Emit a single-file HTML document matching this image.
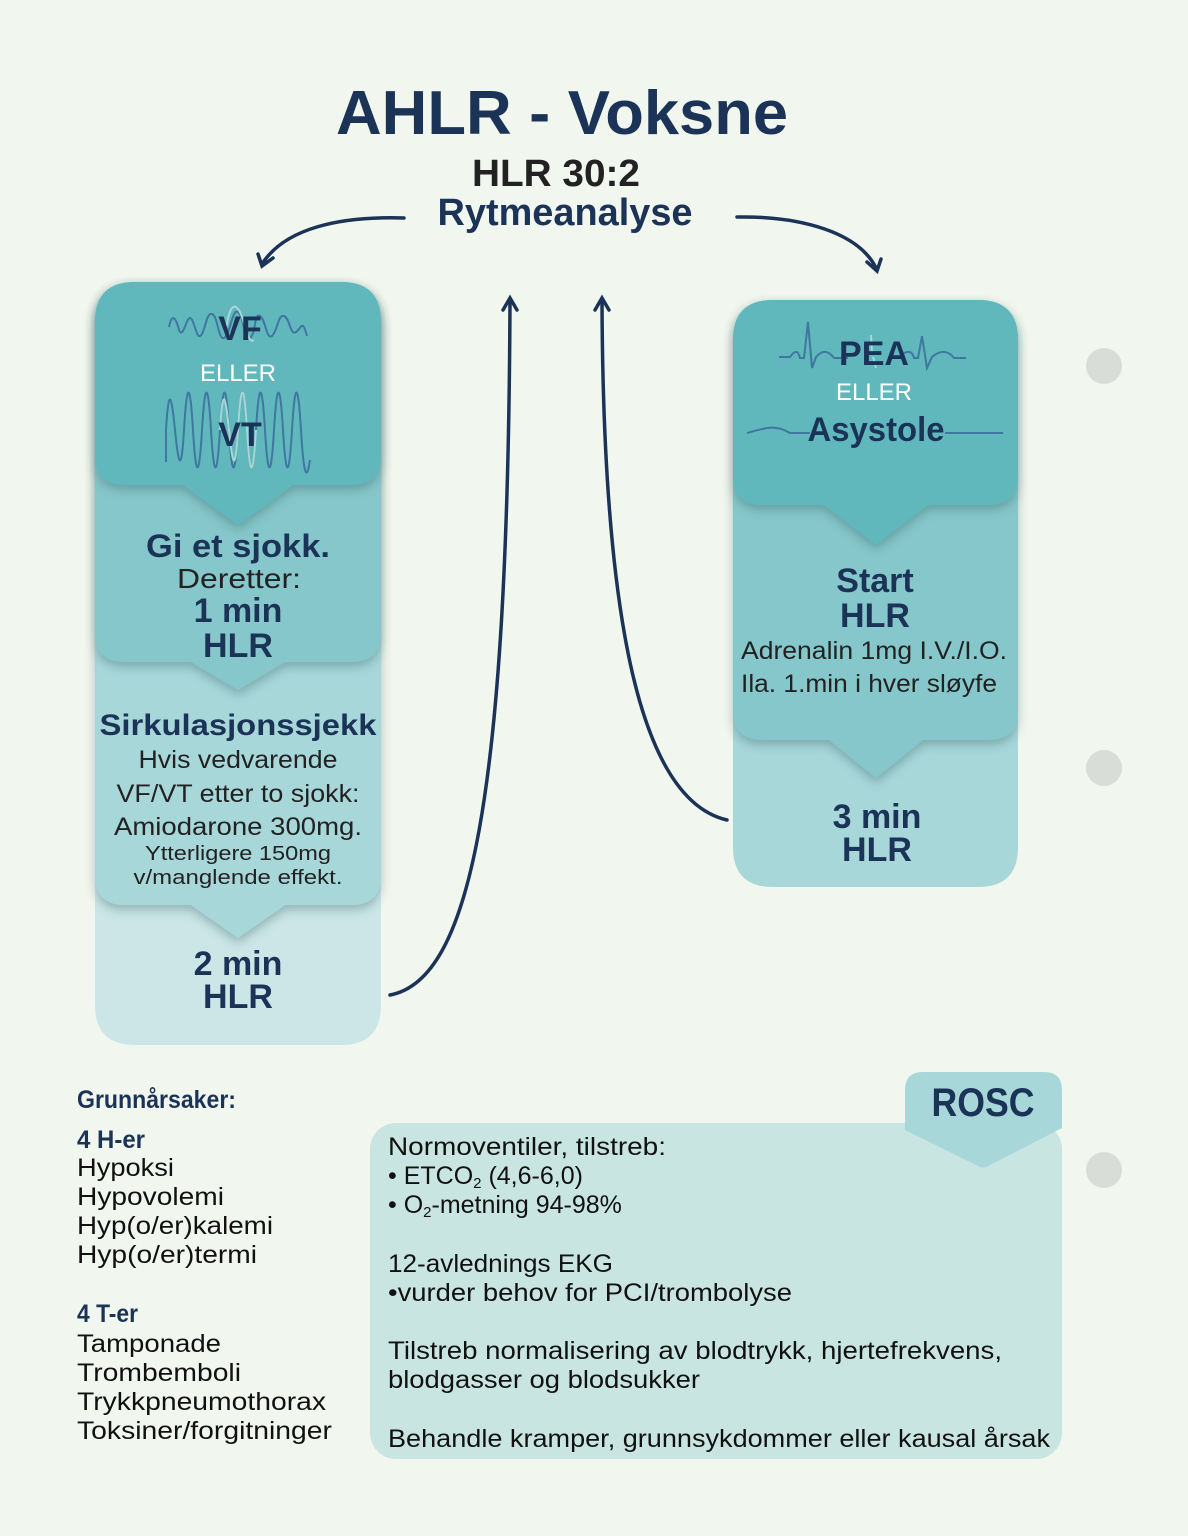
<!DOCTYPE html>
<html><head><meta charset="utf-8"><style>html,body{margin:0;padding:0;background:#f1f6ee}svg{display:block}</style></head><body>
<svg width="1188" height="1536" viewBox="0 0 1188 1536" xmlns="http://www.w3.org/2000/svg" font-family="Liberation Sans, sans-serif">
<defs>
<filter id="sh" x="-10%" y="-10%" width="120%" height="130%"><feDropShadow dx="0" dy="5" stdDeviation="5" flood-color="#2a5a5c" flood-opacity="0.35"/></filter>
</defs>
<rect width="1188" height="1536" fill="#f1f6ee"/>
<circle cx="1104" cy="366" r="18" fill="#d9ddd7"/>
<circle cx="1104" cy="768" r="18" fill="#d9ddd7"/>
<circle cx="1104" cy="1170" r="18" fill="#d9ddd7"/>

<text x="562" y="134" text-anchor="middle" font-size="62" font-weight="bold" fill="#1c3358" textLength="452" lengthAdjust="spacingAndGlyphs">AHLR - Voksne</text>
<text x="556" y="186" text-anchor="middle" font-size="38" font-weight="bold" fill="#222" textLength="168" lengthAdjust="spacingAndGlyphs">HLR 30:2</text>
<text x="565" y="225" text-anchor="middle" font-size="38" font-weight="bold" fill="#1c3358" textLength="255" lengthAdjust="spacingAndGlyphs">Rytmeanalyse</text>

<g fill="none" stroke="#1c3358" stroke-width="3.5" stroke-linecap="round">
<path d="M404,218 C340,216 285,228 262,264"/>
<path d="M258,254 L262,266 L273,258"/>
<path d="M737,217 C800,216 860,232 877,270"/>
<path d="M867,262 L877,271 L881,259"/>
<path d="M390,995 C470,980 508,800 510,300"/>
<path d="M503,310 L510,298 L517,310"/>
<path d="M727,820 C640,800 603,620 602,300"/>
<path d="M595,310 L602,298 L609,310"/>
</g>

<path d="M95,322 Q95,282 135,282 H341 Q381,282 381,322 V1005 Q381,1045 341,1045 H135 Q95,1045 95,1005 Z" fill="#cce6e7"/>
<path filter="url(#sh)" d="M95,322 Q95,282 135,282 H341 Q381,282 381,322 V875 Q381,905 351,905 H285 L238,938 L191,905 H125 Q95,905 95,875 Z" fill="#a8d7da"/>
<path filter="url(#sh)" d="M95,322 Q95,282 135,282 H341 Q381,282 381,322 V632 Q381,662 351,662 H285 L238,690 L191,662 H125 Q95,662 95,632 Z" fill="#86c7cb"/>
<path filter="url(#sh)" d="M95,322 Q95,282 135,282 H341 Q381,282 381,322 V455 Q381,485 351,485 H293 L238,525 L183,485 H125 Q95,485 95,455 Z" fill="#60b8bc"/>

<path d="M169,327 C172,312 176,318 179,330 C183,340 186,318 190,318 C194,318 196,338 200,336 C205,334 206,312 212,314 C218,316 218,340 224,338 C230,336 232,308 238,312 C244,316 244,342 250,338 C256,334 254,312 260,316 C266,320 266,340 272,336 C278,330 278,314 284,316 C290,318 290,336 296,332 C302,328 302,318 307,336" fill="none" stroke="#3f77a0" stroke-width="2"/>
<path d="M226,330 C230,300 236,305 240,312 C246,325 248,345 254,340" fill="none" stroke="#a9d6d6" stroke-width="2"/>
<path d="M166,462 V430 C169,380 172,400 175,430 S181,480 184,430 S190,380 193,430 S199,480 202,430 S208,380 211,430 S217,480 220,430 S226,380 229,430 S235,480 238,430 S244,380 247,430 S253,480 256,430 S262,380 265,430 S271,480 274,430 S280,380 283,430 S289,480 292,430 S298,380 301,430 S307,480 310,460" fill="none" stroke="#3f77a0" stroke-width="2"/>
<path d="M220,430 C223,380 226,400 229,430 S235,480 238,430 S244,380 247,430 S253,480 256,430" fill="none" stroke="#a9d6d6" stroke-width="2"/>

<g text-anchor="middle">
<text x="240" y="340" font-size="34" font-weight="bold" fill="#1c3358">VF</text>
<text x="238" y="381" font-size="24" fill="#ffffff">ELLER</text>
<text x="240" y="446" font-size="34" font-weight="bold" fill="#1c3358">VT</text>
<text x="238" y="557" font-size="32" font-weight="bold" fill="#1c3358" textLength="184" lengthAdjust="spacingAndGlyphs">Gi et sjokk.</text>
<text x="239" y="588" font-size="28" fill="#222" textLength="124" lengthAdjust="spacingAndGlyphs">Deretter:</text>
<text x="238" y="622" font-size="34" font-weight="bold" fill="#1c3358">1 min</text>
<text x="238" y="657" font-size="34" font-weight="bold" fill="#1c3358">HLR</text>
<text x="238" y="735" font-size="30" font-weight="bold" fill="#1c3358" textLength="277" lengthAdjust="spacingAndGlyphs">Sirkulasjonssjekk</text>
<text x="238" y="768" font-size="25" fill="#222" textLength="199" lengthAdjust="spacingAndGlyphs">Hvis vedvarende</text>
<text x="238" y="802" font-size="25" fill="#222" textLength="243" lengthAdjust="spacingAndGlyphs">VF/VT etter to sjokk:</text>
<text x="238" y="835" font-size="25" fill="#222" textLength="248" lengthAdjust="spacingAndGlyphs">Amiodarone 300mg.</text>
<text x="238" y="860" font-size="20" fill="#222" textLength="186" lengthAdjust="spacingAndGlyphs">Ytterligere 150mg</text>
<text x="238" y="884" font-size="20" fill="#222" textLength="209" lengthAdjust="spacingAndGlyphs">v/manglende effekt.</text>
<text x="238" y="975" font-size="34" font-weight="bold" fill="#1c3358">2 min</text>
<text x="238" y="1008" font-size="34" font-weight="bold" fill="#1c3358">HLR</text>
</g>

<path d="M733,340 Q733,300 773,300 H978 Q1018,300 1018,340 V847 Q1018,887 978,887 H773 Q733,887 733,847 Z" fill="#a8d7da"/>
<path filter="url(#sh)" d="M733,340 Q733,300 773,300 H978 Q1018,300 1018,340 V710 Q1018,740 988,740 H923 L876,778 L829,740 H763 Q733,740 733,710 Z" fill="#86c7cb"/>
<path filter="url(#sh)" d="M733,340 Q733,300 773,300 H978 Q1018,300 1018,340 V475 Q1018,505 988,505 H928 L876,545 L824,505 H763 Q733,505 733,475 Z" fill="#60b8bc"/>
<path d="M779,357 H790 C795,350 798,350 800,358 L804,358 L808,322 L812,368 L816,357 C822,350 828,350 834,358 H848 M900,357 C906,350 912,350 914,358 L918,358 L922,336 L927,368 L932,357 C940,350 948,350 954,358 H966" fill="none" stroke="#3f77a0" stroke-width="2"/>
<path d="M871,335 L872,355 M873,357 L876,368" stroke="#a9d6d6" stroke-width="2" fill="none"/>
<path d="M747,433 C765,428 775,424 790,433 H810 M945,433 H1003" fill="none" stroke="#3f77a0" stroke-width="2"/>

<g text-anchor="middle">
<text x="874" y="365" font-size="34" font-weight="bold" fill="#1c3358">PEA</text>
<text x="874" y="400" font-size="24" fill="#ffffff">ELLER</text>
<text x="876" y="441" font-size="34" font-weight="bold" fill="#1c3358" textLength="137" lengthAdjust="spacingAndGlyphs">Asystole</text>
<text x="875" y="592" font-size="34" font-weight="bold" fill="#1c3358">Start</text>
<text x="875" y="627" font-size="34" font-weight="bold" fill="#1c3358">HLR</text>
<text x="874" y="659" font-size="25" fill="#222" textLength="266" lengthAdjust="spacingAndGlyphs">Adrenalin 1mg I.V./I.O.</text>
<text x="869" y="692" font-size="25" fill="#222" textLength="256" lengthAdjust="spacingAndGlyphs">Ila. 1.min i hver sløyfe</text>
<text x="877" y="828" font-size="34" font-weight="bold" fill="#1c3358">3 min</text>
<text x="877" y="861" font-size="34" font-weight="bold" fill="#1c3358">HLR</text>
</g>

<g font-size="25" fill="#111">
<text x="77" y="1108" font-weight="bold" fill="#1c3358" textLength="159" lengthAdjust="spacingAndGlyphs">Grunnårsaker:</text>
<text x="77" y="1148" font-weight="bold" fill="#1c3358" textLength="68" lengthAdjust="spacingAndGlyphs">4 H-er</text>
<text x="77" y="1176" textLength="97" lengthAdjust="spacingAndGlyphs">Hypoksi</text>
<text x="77" y="1205" textLength="147" lengthAdjust="spacingAndGlyphs">Hypovolemi</text>
<text x="77" y="1234" textLength="196" lengthAdjust="spacingAndGlyphs">Hyp(o/er)kalemi</text>
<text x="77" y="1263" textLength="180" lengthAdjust="spacingAndGlyphs">Hyp(o/er)termi</text>
<text x="77" y="1322" font-weight="bold" fill="#1c3358" textLength="61" lengthAdjust="spacingAndGlyphs">4 T-er</text>
<text x="77" y="1352" textLength="144" lengthAdjust="spacingAndGlyphs">Tamponade</text>
<text x="77" y="1381" textLength="164" lengthAdjust="spacingAndGlyphs">Trombemboli</text>
<text x="77" y="1410" textLength="249" lengthAdjust="spacingAndGlyphs">Trykkpneumothorax</text>
<text x="77" y="1439" textLength="255" lengthAdjust="spacingAndGlyphs">Toksiner/forgitninger</text>
</g>

<rect x="370" y="1123" width="692" height="336" rx="26" fill="#c9e5e2"/>
<path d="M905,1130 V1090 Q905,1072 923,1072 H1044 Q1062,1072 1062,1090 V1128 L990,1165 Q983,1170 976,1165 Z" fill="#a8d7da"/>
<text x="983" y="1116" text-anchor="middle" font-size="40" font-weight="bold" fill="#1c3358" textLength="103" lengthAdjust="spacingAndGlyphs">ROSC</text>
<g font-size="25" fill="#111">
<text x="388" y="1155" textLength="278" lengthAdjust="spacingAndGlyphs">Normoventiler, tilstreb:</text>
<text x="388" y="1184">• ETCO<tspan font-size="15" dy="4">2</tspan><tspan dy="-4"> (4,6-6,0)</tspan></text>
<text x="388" y="1213">• O<tspan font-size="15" dy="4">2</tspan><tspan dy="-4">-metning 94-98%</tspan></text>
<text x="388" y="1272" textLength="225" lengthAdjust="spacingAndGlyphs">12-avlednings EKG</text>
<text x="388" y="1301" textLength="404" lengthAdjust="spacingAndGlyphs">•vurder behov for PCI/trombolyse</text>
<text x="388" y="1359" textLength="614" lengthAdjust="spacingAndGlyphs">Tilstreb normalisering av blodtrykk, hjertefrekvens,</text>
<text x="388" y="1388" textLength="312" lengthAdjust="spacingAndGlyphs">blodgasser og blodsukker</text>
<text x="388" y="1447" textLength="662" lengthAdjust="spacingAndGlyphs">Behandle kramper, grunnsykdommer eller kausal årsak</text>
</g>
</svg>
</body></html>
